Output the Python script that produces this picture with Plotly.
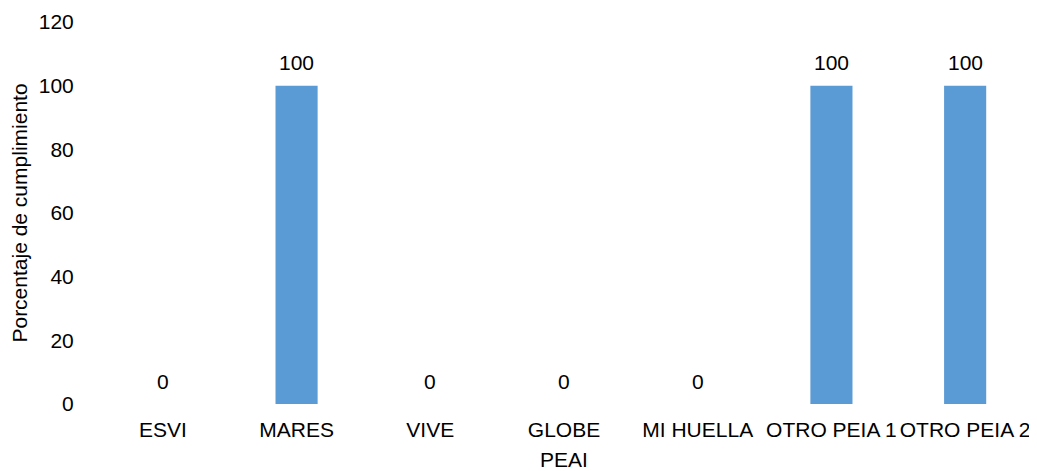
import plotly.graph_objects as go

categories = ["ESVI", "MARES", "VIVE", "GLOBE", "MI HUELLA", "OTRO PEIA 1", "OTRO PEIA 2"]
values = [0, 100, 0, 0, 0, 100, 100]
y_ticks = [0, 20, 40, 60, 80, 100, 120]

FONT = "Liberation Sans, Arial, sans-serif"
FS = 21

fig = go.Figure()
fig.add_trace(go.Bar(
    x=categories, y=values,
    marker=dict(color="#5B9BD5", line=dict(width=0)),
    width=0.315,
    hoverinfo="x+y",
))

for c, v in zip(categories, values):
    fig.add_annotation(x=c, y=v, text=str(v), showarrow=False, yshift=23,
                       font=dict(family=FONT, size=FS, color="#000000"))

# page body has an 8px default margin, so the figure is offset by 8px
fig.update_layout(
    width=1029, height=463,
    margin=dict(l=88, r=5, t=14, b=67),
    paper_bgcolor="white", plot_bgcolor="white",
    font=dict(family=FONT, size=FS, color="#000000"),
    showlegend=False,
    xaxis=dict(
        title=dict(text="PEAI", font=dict(size=FS), standoff=17),
        tickangle=0, showgrid=False, showline=False, zeroline=False,
        ticks="outside", ticklen=7, tickcolor="rgba(0,0,0,0)",
        tickfont=dict(size=FS), automargin=False,
    ),
    yaxis=dict(
        title=dict(text="Porcentaje de cumplimiento", font=dict(size=FS), standoff=12),
        range=[0, 120], tickvals=y_ticks, showgrid=False, showline=False, zeroline=False,
        ticks="outside", ticklen=17, tickcolor="rgba(0,0,0,0)",
        tickfont=dict(size=FS), automargin=False,
    ),
)

fig.write_html("out.html")
